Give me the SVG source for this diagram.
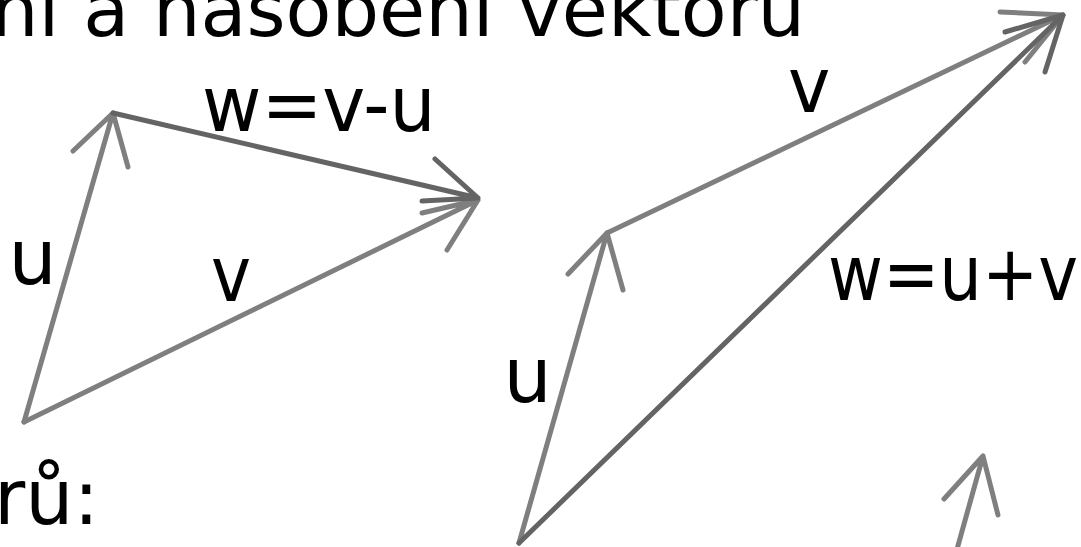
<svg xmlns="http://www.w3.org/2000/svg" width="1081" height="547" viewBox="0 0 1081 547">
<style>
text { font-family: "DejaVu Sans", Verdana, sans-serif; fill: #000; }
.t { font-size: 75px; }
.l { font-size: 76px; }
.vec { fill: none; stroke: #7f7f7f; stroke-width: 5; stroke-linecap: round; stroke-linejoin: round; }
.res { stroke: #646464; }
</style>
<rect width="1081" height="547" fill="#fff"/>
<g id="title"><text class="t" x="-9" y="36">ní a násobení vektorů</text></g>
<g id="footer"><text class="l" x="-6" y="524">rů:</text></g>
<g id="connectors">
  <path id="u1" class="vec" d="M24,422 L113,113 M73,151 L113,113 L128,167"/>
  <path id="v1" class="vec" d="M24,422 L478,200 M422,213 L478,200 L447,250"/>
  <path id="w1" class="vec res" d="M113,113 L478,198 M435,159 L478,198 L422,201"/>
  <path id="u2" class="vec" d="M519,543 L607,233 M568,274 L607,233 L623,290"/>
  <path id="v2" class="vec" d="M607,233 L1063,15 M1000,12 L1063,15 L1025,62"/>
  <path id="w2" class="vec res" d="M519,543 L1063,15 M1005,32 L1063,15 L1045,72"/>
  <path id="u3" class="vec" d="M954,560 L983,456 M944,499 L983,456 L998,515"/>
</g>
<g id="label-w1"><text class="l" x="202" y="131" textLength="233.6" lengthAdjust="spacingAndGlyphs">w=v-u</text></g>
<g id="label-u1"><text class="l" x="8.5" y="284">u</text></g>
<g id="label-v1"><text class="l" x="211" y="301" textLength="40" lengthAdjust="spacingAndGlyphs">v</text></g>
<g id="label-v2"><text class="l" x="788" y="112" textLength="42.3" lengthAdjust="spacingAndGlyphs">v</text></g>
<g id="label-w2"><text class="l" x="828" y="300" textLength="250" lengthAdjust="spacingAndGlyphs">w=u+v</text></g>
<g id="label-u2"><text class="l" x="503.5" y="402">u</text></g>
</svg>
